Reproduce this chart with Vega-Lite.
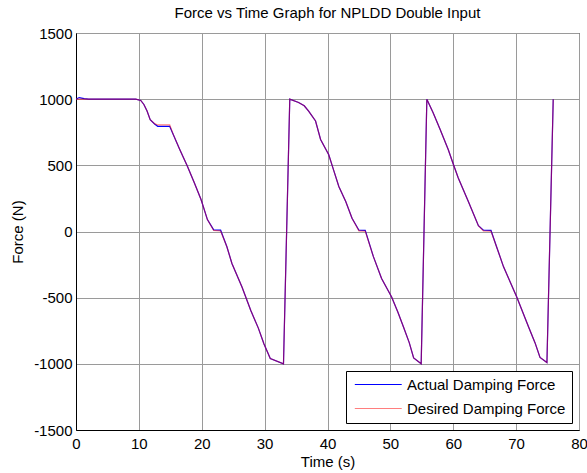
{
  "$schema": "https://vega.github.io/schema/vega-lite/v6.json",
  "width": 503,
  "height": 397,
  "autosize": {"type": "none"},
  "padding": {"left": 76, "top": 33, "right": 8, "bottom": 43},
  "background": "white",
  "config": {
    "font": "Liberation Sans",
    "view": {"stroke": "black", "strokeWidth": 1}
  },
  "title": {
    "text": "Force vs Time Graph for NPLDD Double Input",
    "fontSize": 15,
    "fontWeight": "normal",
    "font": "Liberation Sans",
    "color": "black",
    "offset": 5
  },
  "data": {
    "values": [
      {"t": 0, "F": 1000, "s": "Actual Damping Force"},
      {"t": 0.5, "F": 1012, "s": "Actual Damping Force"},
      {"t": 1.3, "F": 1004, "s": "Actual Damping Force"},
      {"t": 2, "F": 1000, "s": "Actual Damping Force"},
      {"t": 9.5, "F": 1000, "s": "Actual Damping Force"},
      {"t": 10.3, "F": 990, "s": "Actual Damping Force"},
      {"t": 10.8, "F": 960, "s": "Actual Damping Force"},
      {"t": 11.3, "F": 910, "s": "Actual Damping Force"},
      {"t": 11.8, "F": 845, "s": "Actual Damping Force"},
      {"t": 12.5, "F": 812, "s": "Actual Damping Force"},
      {"t": 13.0, "F": 795, "s": "Actual Damping Force"},
      {"t": 14.9, "F": 795, "s": "Actual Damping Force"},
      {"t": 15.5, "F": 730, "s": "Actual Damping Force"},
      {"t": 16.5, "F": 620, "s": "Actual Damping Force"},
      {"t": 17.7, "F": 495, "s": "Actual Damping Force"},
      {"t": 18.8, "F": 370, "s": "Actual Damping Force"},
      {"t": 19.9, "F": 240, "s": "Actual Damping Force"},
      {"t": 20.9, "F": 90, "s": "Actual Damping Force"},
      {"t": 21.9, "F": 12, "s": "Actual Damping Force"},
      {"t": 23.0, "F": 10, "s": "Actual Damping Force"},
      {"t": 24.0, "F": -115, "s": "Actual Damping Force"},
      {"t": 24.8, "F": -242, "s": "Actual Damping Force"},
      {"t": 26.4, "F": -420, "s": "Actual Damping Force"},
      {"t": 27.8, "F": -597, "s": "Actual Damping Force"},
      {"t": 29.0, "F": -730, "s": "Actual Damping Force"},
      {"t": 29.9, "F": -850, "s": "Actual Damping Force"},
      {"t": 30.9, "F": -960, "s": "Actual Damping Force"},
      {"t": 33.0, "F": -1000, "s": "Actual Damping Force"},
      {"t": 34.0, "F": 1000, "s": "Actual Damping Force"},
      {"t": 35.4, "F": 975, "s": "Actual Damping Force"},
      {"t": 36.3, "F": 950, "s": "Actual Damping Force"},
      {"t": 37.0, "F": 910, "s": "Actual Damping Force"},
      {"t": 38.1, "F": 835, "s": "Actual Damping Force"},
      {"t": 38.9, "F": 695, "s": "Actual Damping Force"},
      {"t": 40.2, "F": 580, "s": "Actual Damping Force"},
      {"t": 41.0, "F": 460, "s": "Actual Damping Force"},
      {"t": 41.8, "F": 340, "s": "Actual Damping Force"},
      {"t": 42.9, "F": 227, "s": "Actual Damping Force"},
      {"t": 43.9, "F": 100, "s": "Actual Damping Force"},
      {"t": 45.0, "F": 10, "s": "Actual Damping Force"},
      {"t": 46.0, "F": 8, "s": "Actual Damping Force"},
      {"t": 47.3, "F": -190, "s": "Actual Damping Force"},
      {"t": 48.6, "F": -355, "s": "Actual Damping Force"},
      {"t": 50.2, "F": -495, "s": "Actual Damping Force"},
      {"t": 51.2, "F": -610, "s": "Actual Damping Force"},
      {"t": 52.1, "F": -724, "s": "Actual Damping Force"},
      {"t": 53.0, "F": -840, "s": "Actual Damping Force"},
      {"t": 53.7, "F": -955, "s": "Actual Damping Force"},
      {"t": 54.9, "F": -1000, "s": "Actual Damping Force"},
      {"t": 55.8, "F": 1000, "s": "Actual Damping Force"},
      {"t": 56.8, "F": 898, "s": "Actual Damping Force"},
      {"t": 57.9, "F": 772, "s": "Actual Damping Force"},
      {"t": 59.2, "F": 620, "s": "Actual Damping Force"},
      {"t": 60.0, "F": 510, "s": "Actual Damping Force"},
      {"t": 60.8, "F": 405, "s": "Actual Damping Force"},
      {"t": 62.4, "F": 227, "s": "Actual Damping Force"},
      {"t": 64.0, "F": 44, "s": "Actual Damping Force"},
      {"t": 64.8, "F": 10, "s": "Actual Damping Force"},
      {"t": 66.0, "F": 8, "s": "Actual Damping Force"},
      {"t": 67.0, "F": -130, "s": "Actual Damping Force"},
      {"t": 68.0, "F": -267, "s": "Actual Damping Force"},
      {"t": 70.1, "F": -495, "s": "Actual Damping Force"},
      {"t": 72.0, "F": -724, "s": "Actual Damping Force"},
      {"t": 73.0, "F": -840, "s": "Actual Damping Force"},
      {"t": 73.8, "F": -952, "s": "Actual Damping Force"},
      {"t": 74.9, "F": -990, "s": "Actual Damping Force"},
      {"t": 75.9, "F": 1000, "s": "Actual Damping Force"},
      {"t": 0, "F": 1000, "s": "Desired Damping Force"},
      {"t": 9.5, "F": 1000, "s": "Desired Damping Force"},
      {"t": 10.3, "F": 990, "s": "Desired Damping Force"},
      {"t": 10.8, "F": 960, "s": "Desired Damping Force"},
      {"t": 11.3, "F": 910, "s": "Desired Damping Force"},
      {"t": 11.8, "F": 845, "s": "Desired Damping Force"},
      {"t": 12.5, "F": 815, "s": "Desired Damping Force"},
      {"t": 13.0, "F": 805, "s": "Desired Damping Force"},
      {"t": 14.9, "F": 805, "s": "Desired Damping Force"},
      {"t": 15.5, "F": 730, "s": "Desired Damping Force"},
      {"t": 16.5, "F": 620, "s": "Desired Damping Force"},
      {"t": 17.7, "F": 495, "s": "Desired Damping Force"},
      {"t": 18.8, "F": 370, "s": "Desired Damping Force"},
      {"t": 19.9, "F": 240, "s": "Desired Damping Force"},
      {"t": 20.9, "F": 90, "s": "Desired Damping Force"},
      {"t": 21.9, "F": 8, "s": "Desired Damping Force"},
      {"t": 23.0, "F": 4, "s": "Desired Damping Force"},
      {"t": 24.0, "F": -115, "s": "Desired Damping Force"},
      {"t": 24.8, "F": -242, "s": "Desired Damping Force"},
      {"t": 26.4, "F": -420, "s": "Desired Damping Force"},
      {"t": 27.8, "F": -597, "s": "Desired Damping Force"},
      {"t": 29.0, "F": -730, "s": "Desired Damping Force"},
      {"t": 29.9, "F": -850, "s": "Desired Damping Force"},
      {"t": 30.9, "F": -960, "s": "Desired Damping Force"},
      {"t": 33.0, "F": -1000, "s": "Desired Damping Force"},
      {"t": 34.0, "F": 1000, "s": "Desired Damping Force"},
      {"t": 35.4, "F": 975, "s": "Desired Damping Force"},
      {"t": 36.3, "F": 950, "s": "Desired Damping Force"},
      {"t": 37.0, "F": 910, "s": "Desired Damping Force"},
      {"t": 38.1, "F": 835, "s": "Desired Damping Force"},
      {"t": 38.9, "F": 695, "s": "Desired Damping Force"},
      {"t": 40.2, "F": 580, "s": "Desired Damping Force"},
      {"t": 41.0, "F": 460, "s": "Desired Damping Force"},
      {"t": 41.8, "F": 340, "s": "Desired Damping Force"},
      {"t": 42.9, "F": 227, "s": "Desired Damping Force"},
      {"t": 43.9, "F": 100, "s": "Desired Damping Force"},
      {"t": 45.0, "F": 5, "s": "Desired Damping Force"},
      {"t": 46.0, "F": 3, "s": "Desired Damping Force"},
      {"t": 47.3, "F": -190, "s": "Desired Damping Force"},
      {"t": 48.6, "F": -355, "s": "Desired Damping Force"},
      {"t": 50.2, "F": -495, "s": "Desired Damping Force"},
      {"t": 51.2, "F": -610, "s": "Desired Damping Force"},
      {"t": 52.1, "F": -724, "s": "Desired Damping Force"},
      {"t": 53.0, "F": -840, "s": "Desired Damping Force"},
      {"t": 53.7, "F": -955, "s": "Desired Damping Force"},
      {"t": 54.9, "F": -1000, "s": "Desired Damping Force"},
      {"t": 55.8, "F": 1000, "s": "Desired Damping Force"},
      {"t": 56.8, "F": 898, "s": "Desired Damping Force"},
      {"t": 57.9, "F": 772, "s": "Desired Damping Force"},
      {"t": 59.2, "F": 620, "s": "Desired Damping Force"},
      {"t": 60.0, "F": 510, "s": "Desired Damping Force"},
      {"t": 60.8, "F": 405, "s": "Desired Damping Force"},
      {"t": 62.4, "F": 227, "s": "Desired Damping Force"},
      {"t": 64.0, "F": 44, "s": "Desired Damping Force"},
      {"t": 64.8, "F": 5, "s": "Desired Damping Force"},
      {"t": 66.0, "F": 3, "s": "Desired Damping Force"},
      {"t": 67.0, "F": -130, "s": "Desired Damping Force"},
      {"t": 68.0, "F": -267, "s": "Desired Damping Force"},
      {"t": 70.1, "F": -495, "s": "Desired Damping Force"},
      {"t": 72.0, "F": -724, "s": "Desired Damping Force"},
      {"t": 73.0, "F": -840, "s": "Desired Damping Force"},
      {"t": 73.8, "F": -952, "s": "Desired Damping Force"},
      {"t": 74.9, "F": -990, "s": "Desired Damping Force"},
      {"t": 75.9, "F": 1000, "s": "Desired Damping Force"}
    ]
  },
  "mark": {"type": "line", "strokeWidth": 1.2, "clip": true},
  "encoding": {
    "x": {
      "field": "t",
      "type": "quantitative",
      "scale": {"domain": [0, 80], "nice": false, "zero": false},
      "axis": {
        "title": "Time (s)",
        "values": [0, 10, 20, 30, 40, 50, 60, 70, 80],
        "labelExpr": "'' + datum.value",
        "grid": true,
        "gridColor": "#9a9a9a",
        "gridOpacity": 1,
        "gridWidth": 1,
        "ticks": false,
        "domain": true,
        "domainColor": "black",
        "labelFont": "Liberation Sans",
        "labelFontSize": 15,
        "labelColor": "black",
        "labelPadding": 6,
        "labelFlush": false,
        "titleFont": "Liberation Sans",
        "titleFontSize": 15,
        "titleFontWeight": "normal",
        "titleColor": "black",
        "titlePadding": 3
      }
    },
    "y": {
      "field": "F",
      "type": "quantitative",
      "scale": {"domain": [-1500, 1500], "nice": false, "zero": false},
      "axis": {
        "title": "Force (N)",
        "values": [-1500, -1000, -500, 0, 500, 1000, 1500],
        "labelExpr": "'' + datum.value",
        "grid": true,
        "gridColor": "#9a9a9a",
        "gridOpacity": 1,
        "gridWidth": 1,
        "ticks": false,
        "domain": true,
        "domainColor": "black",
        "labelFont": "Liberation Sans",
        "labelFontSize": 15,
        "labelColor": "black",
        "labelPadding": 4,
        "labelFlush": false,
        "titleFont": "Liberation Sans",
        "titleFontSize": 15,
        "titleFontWeight": "normal",
        "titleColor": "black",
        "titlePadding": 8
      }
    },
    "color": {
      "field": "s",
      "type": "nominal",
      "scale": {"domain": ["Actual Damping Force", "Desired Damping Force"], "range": ["#0000ff", "#ff0000"]},
      "legend": {
        "title": null,
        "orient": "bottom-right",
        "offset": 7,
        "strokeColor": "black",
        "fillColor": "white",
        "padding": 6,
        "rowPadding": 8,
        "symbolType": "M-1,0H9",
        "symbolSize": 88,
        "symbolStrokeWidth": 1.2,
        "labelOffset": 40,
        "labelFont": "Liberation Sans",
        "labelFontSize": 15,
        "labelColor": "black"
      }
    },
    "opacity": {
      "field": "s",
      "type": "nominal",
      "scale": {"domain": ["Actual Damping Force", "Desired Damping Force"], "range": [1, 0.5]},
      "legend": {
        "title": null,
        "orient": "bottom-right",
        "offset": 7,
        "strokeColor": "black",
        "fillColor": "white",
        "padding": 6,
        "rowPadding": 8,
        "symbolType": "M-1,0H9",
        "symbolSize": 88,
        "symbolStrokeWidth": 1.2,
        "labelOffset": 40,
        "labelFont": "Liberation Sans",
        "labelFontSize": 15,
        "labelColor": "black"
      }
    },
    "order": {"field": "s"}
  }
}
